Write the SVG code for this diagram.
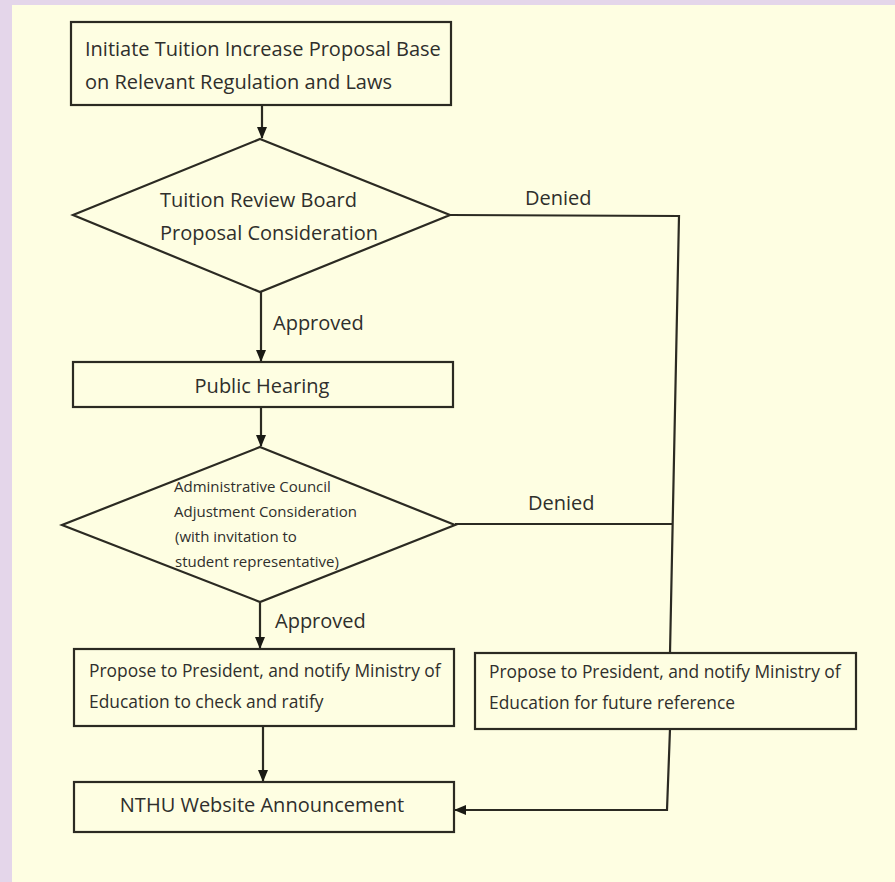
<svg xmlns="http://www.w3.org/2000/svg" width="895" height="882" viewBox="0 0 895 882">
<defs>
<marker id="ah" viewBox="0 0 12 12" refX="11" refY="6" markerWidth="12" markerHeight="12" markerUnits="userSpaceOnUse" orient="auto">
<path d="M0,1 L12,6 L0,11 Z" fill="#1a1a14"/>
</marker>
<style>
.shape{fill:none;stroke:#2b2a22;stroke-width:2.2}
.conn{fill:none;stroke:#2b2a22;stroke-width:2.2}
.t{font-family:"Open Sans","Noto Sans","Liberation Sans",sans-serif;fill:#2f2f2c}
.big{font-size:20px}
.mid{font-size:17.4px}
.sm{font-size:15px}
</style>
</defs>
<rect x="0" y="0" width="895" height="882" fill="#e4d6ea"/>
<rect x="12" y="5" width="883" height="877" fill="#fefee2"/>

<g id="connectors">
<line class="conn" x1="262" y1="106" x2="262" y2="138" marker-end="url(#ah)"/>
<line class="conn" x1="261" y1="292" x2="261" y2="361" marker-end="url(#ah)"/>
<line class="conn" x1="261" y1="408" x2="261" y2="446" marker-end="url(#ah)"/>
<line class="conn" x1="260" y1="603" x2="260" y2="648" marker-end="url(#ah)"/>
<line class="conn" x1="263" y1="727" x2="263" y2="781" marker-end="url(#ah)"/>
<polyline class="conn" points="450,215 679,216 670,653"/>
<line class="conn" x1="455" y1="524" x2="673" y2="524"/>
<polyline class="conn" points="670,729 667,810 455,810" marker-end="url(#ah)"/>
<text class="t big" x="525" y="205">Denied</text>
<text class="t big" x="273" y="330">Approved</text>
<text class="t big" x="528" y="510">Denied</text>
<text class="t big" x="275" y="628">Approved</text>
</g>

<g id="n1">
<rect class="shape" x="71" y="22" width="380" height="83"/>
<text class="t big" x="85" y="56">Initiate Tuition Increase Proposal Base</text>
<text class="t big" x="85" y="89">on Relevant Regulation and Laws</text>
</g>

<g id="n2">
<polygon class="shape" points="260,139 450,215 260,292 73,215"/>
<text class="t big" x="160" y="207">Tuition Review Board</text>
<text class="t big" x="160" y="240">Proposal Consideration</text>
</g>

<g id="n3">
<rect class="shape" x="73" y="362" width="380" height="45"/>
<text class="t big" x="262" y="393" text-anchor="middle">Public Hearing</text>
</g>

<g id="n4">
<polygon class="shape" points="260,447 455,525 260,602 62,525"/>
<text class="t sm" x="174" y="492">Administrative Council</text>
<text class="t sm" x="174" y="517">Adjustment Consideration</text>
<text class="t sm" x="175" y="542">(with invitation to</text>
<text class="t sm" x="175" y="567">student representative)</text>
</g>

<g id="n5">
<rect class="shape" x="74" y="649" width="380" height="77"/>
<text class="t mid" x="89" y="677">Propose to President, and notify Ministry of</text>
<text class="t mid" x="89" y="708">Education to check and ratify</text>
</g>

<g id="n6">
<rect class="shape" x="475" y="653" width="381" height="76"/>
<text class="t mid" x="489" y="678">Propose to President, and notify Ministry of</text>
<text class="t mid" x="489" y="709">Education for future reference</text>
</g>

<g id="n7">
<rect class="shape" x="74" y="782" width="380" height="50"/>
<text class="t big" x="262" y="812" text-anchor="middle">NTHU Website Announcement</text>
</g>
</svg>
